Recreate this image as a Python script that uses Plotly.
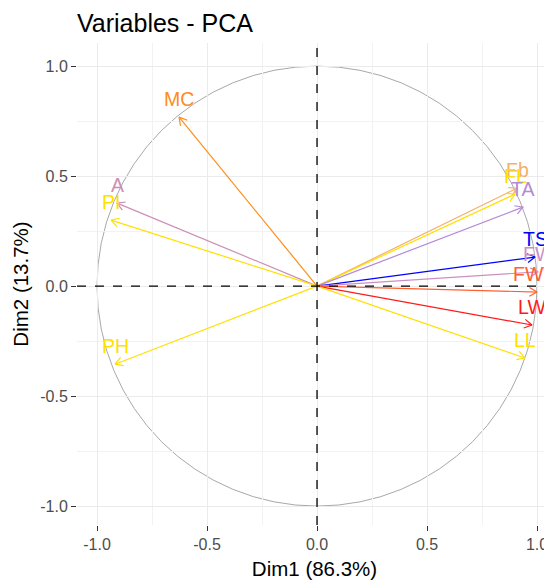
import numpy as np
import plotly.graph_objects as go

# ---- data ----
variables = ["MC", "A", "PI", "PH", "Fb", "FL", "TA", "TS", "FW", "FWW", "LW", "LL"]
dim1 = [-0.627, -0.909, -0.936, -0.918, 0.909, 0.900, 0.936, 0.991, 1.005, 1.00, 0.977, 0.945]
dim2 = [0.768, 0.377, 0.300, -0.355, 0.445, 0.418, 0.359, 0.132, 0.065, -0.027, -0.177, -0.327]
var_colors = ["#FF8C1A", "#CC8FB5", "#FFE000", "#FFE000", "#F4B06A", "#FFE000",
              "#B48AD6", "#0000FF", "#CC8FC4", "#FF6030", "#FF1A1A", "#FFE000"]

tick_vals = [-1.0, -0.5, 0.0, 0.5, 1.0]
tick_text = ["-1.0", "-0.5", "0.0", "0.5", "1.0"]

title_text = "Variables - PCA"
x_title = "Dim1 (86.3%)"
y_title = "Dim2 (13.7%)"

FONT = "Liberation Sans, Arial, sans-serif"

# the page body adds an 8 px offset, so the figure is 8 px smaller each way
W, H = 544, 574

fig = go.Figure()

# arrows (shaft + open V head)
head_len = 0.04
head_ang = np.deg2rad(30)
for name, x, y, c in zip(variables, dim1, dim2, var_colors):
    fig.add_trace(go.Scatter(x=[0, x], y=[0, y], mode="lines",
                             line=dict(color=c, width=1.2), hoverinfo="skip",
                             showlegend=False))
    ang = np.arctan2(y, x)
    hx = [x - head_len * np.cos(ang + head_ang), x, x - head_len * np.cos(ang - head_ang)]
    hy = [y - head_len * np.sin(ang + head_ang), y, y - head_len * np.sin(ang - head_ang)]
    fig.add_trace(go.Scatter(x=hx, y=hy, mode="lines",
                             line=dict(color=c, width=1.2), hoverinfo="skip",
                             showlegend=False))
    fig.add_annotation(x=x, y=y, text=name, showarrow=False, yshift=18,
                       xanchor="center", yanchor="middle",
                       font=dict(family=FONT, size=19.5, color=c))

# unit circle
fig.add_shape(type="circle", xref="x", yref="y", x0=-1, y0=-1, x1=1, y1=1,
              line=dict(color="#A8A8A8", width=1), layer="below")
# dashed reference lines
fig.add_shape(type="line", xref="paper", yref="y", x0=0, x1=1, y0=0, y1=0,
              line=dict(color="black", width=1.3, dash="dash"))
fig.add_shape(type="line", xref="x", yref="paper", x0=0, x1=0, y0=0, y1=1,
              line=dict(color="black", width=1.3, dash="dash"))

axis_common = dict(
    tickvals=tick_vals, ticktext=tick_text, automargin=False,
    showgrid=True, gridcolor="#EBEBEB", gridwidth=1,
    minor=dict(dtick=0.25, tick0=0, showgrid=True, gridcolor="#F2F2F2", gridwidth=1, ticks=""),
    zeroline=False, showline=False,
    ticks="outside", ticklen=5, tickwidth=1, tickcolor="#333333",
    tickfont=dict(family=FONT, size=16, color="#4D4D4D"),
)

fig.update_layout(
    width=W, height=H,
    margin=dict(l=69, r=0, t=35, b=57, autoexpand=False),
    paper_bgcolor="white", plot_bgcolor="white",
    title=dict(text=title_text, x=69 / W, xanchor="left", xref="container",
               y=1 - 15 / H, yanchor="middle",
               font=dict(family=FONT, size=25, color="black")),
    xaxis=dict(range=[-1.091, 1.068],
               title=dict(text=x_title, standoff=9, font=dict(family=FONT, size=20.5, color="black")),
               **axis_common),
    yaxis=dict(range=[-1.086, 1.105],
               title=dict(text=y_title, standoff=6, font=dict(family=FONT, size=20.5, color="black")),
               **axis_common),
)

fig.write_html("out.html")
